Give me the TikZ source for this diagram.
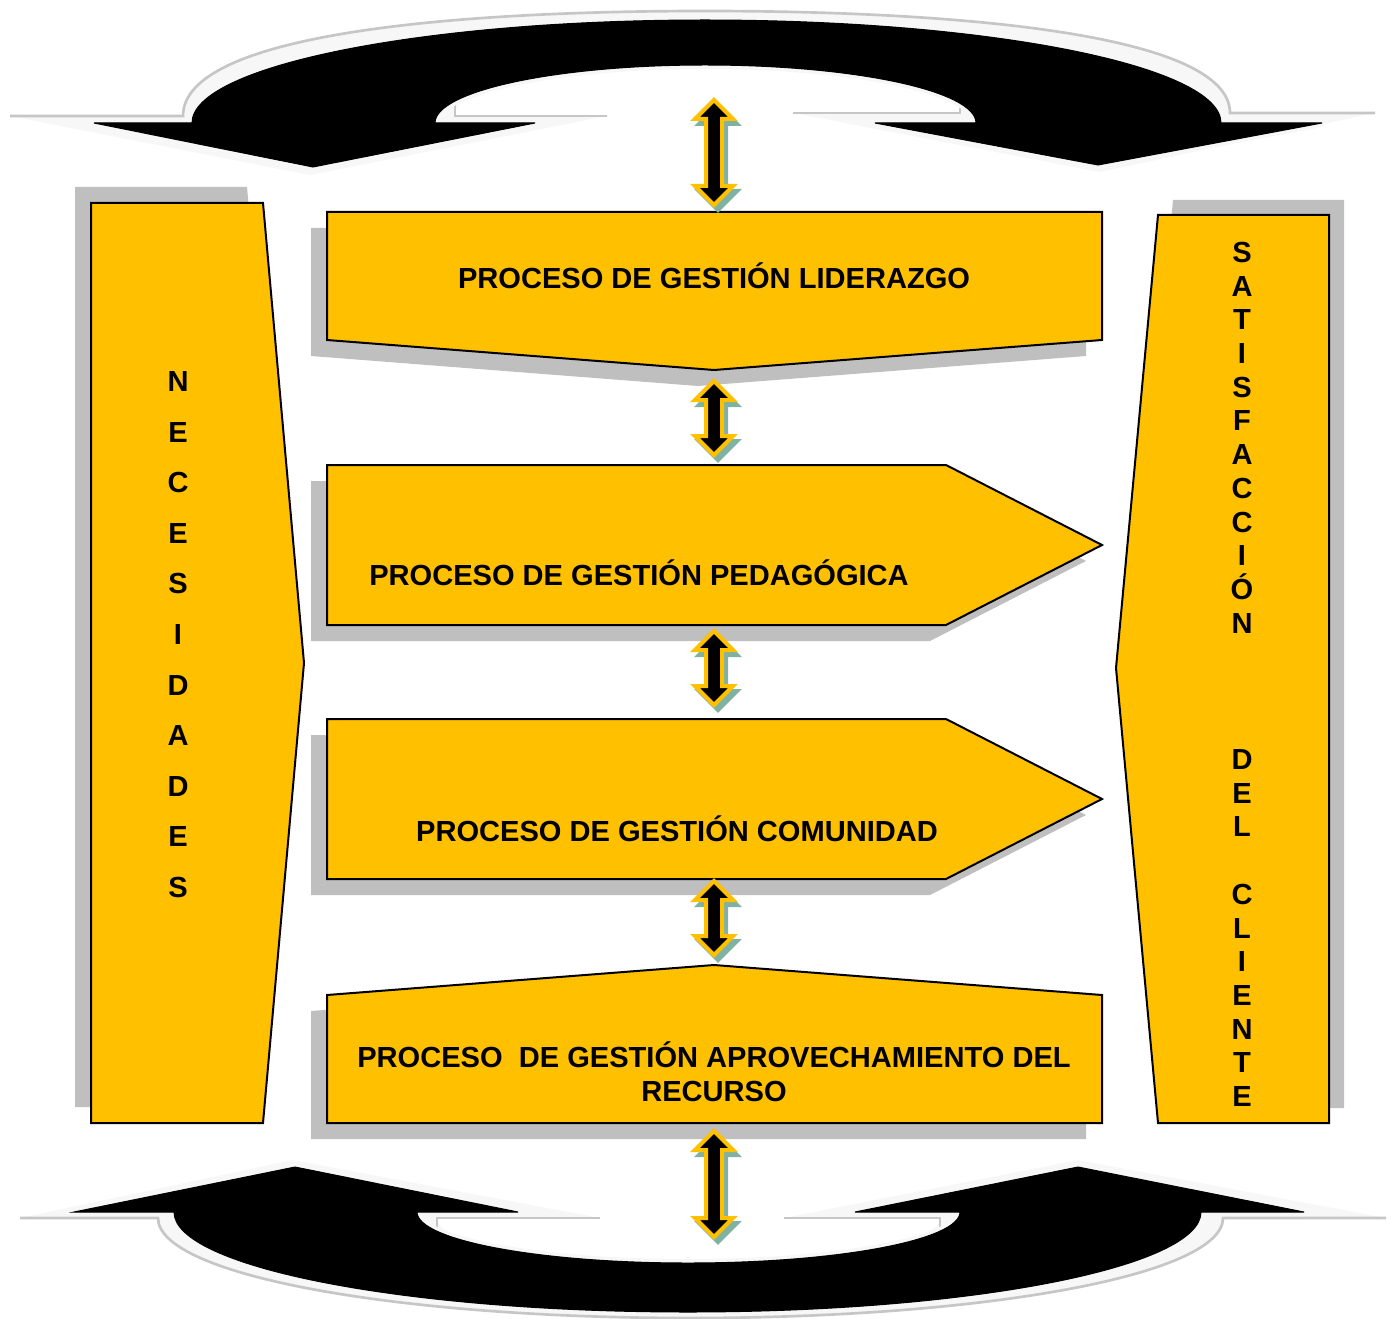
\documentclass[tikz,border=0pt]{standalone}
\usepackage{fontspec}
\setmainfont{Liberation Sans}
\definecolor{procyellow}{RGB}{255,192,0}
\definecolor{boxshade}{RGB}{191,191,191}
\definecolor{arrowshade}{RGB}{128,178,164}
\tikzset{every picture/.style={line width=0.75pt}}

% double arrow between two named coordinates (top, bottom)
\newcommand{\dblarrow}[2]{%
\draw [arrshade] (#1) -- ([shift={(19,19)}]#1) -- ([shift={(8,19)}]#1) -- ([shift={(8,-19)}]#2) -- ([shift={(19,-19)}]#2) -- (#2) -- ([shift={(-19,-19)}]#2) -- ([shift={(-8,-19)}]#2) -- ([shift={(-8,19)}]#1) -- ([shift={(-19,19)}]#1) -- cycle ;
\draw [arrbody] (#1) -- ([shift={(19,19)}]#1) -- ([shift={(8,19)}]#1) -- ([shift={(8,-19)}]#2) -- ([shift={(19,-19)}]#2) -- (#2) -- ([shift={(-19,-19)}]#2) -- ([shift={(-8,-19)}]#2) -- ([shift={(-8,19)}]#1) -- ([shift={(-19,19)}]#1) -- cycle ;}

\begin{document}
\begin{tikzpicture}[x=0.75pt,y=0.75pt,yscale=-1,xscale=1,
  procbox/.style={draw=black, line width=1.5pt, fill=procyellow},
  procshade/.style={fill=boxshade, draw=none},
  bigshade/.style={fill=gray!6, draw=none},
  bigline/.style={draw=gray!45, line width=2pt},
  bigarrow/.style={fill=black, preaction={draw=gray!6, line width=6pt}},
  arrbody/.style={fill=black, draw=procyellow, line width=3pt},
  arrshade/.style={fill=arrowshade, draw=arrowshade, line width=3pt, transform canvas={xshift=3pt, yshift=-3.75pt}},
  proclabel/.style={font=\fontsize{21.8pt}{25.5pt}\selectfont\bfseries, inner sep=0pt, text height=15.6pt, text depth=0pt, align=center}]
\useasboundingbox (0,0) rectangle (1391,1319);

%Shape: curved arrow, top
\fill [bigshade] (10,116) -- (310,175) -- (607,116) -- (455,116) .. controls (455,80) and (570,58) .. (705,58) .. controls (840,58) and (960,80) .. (960,113) -- (793,113) -- (1100,172) -- (1375,113) -- (1230,113) .. controls (1230,35) and (965,11) .. (705,11) .. controls (445,11) and (183,35) .. (183,116) -- cycle ;
\draw [bigline] (10,116) -- (183,116) .. controls (183,35) and (445,11) .. (705,11) .. controls (965,11) and (1230,35) .. (1230,113) -- (1375,113) ;
\draw [bigline] (455,105) -- (455,116) -- (607,116) ;
\draw [bigline] (793,113) -- (960,113) -- (960,102) ;
\draw [bigarrow] (94,123) -- (313,167) -- (535,123) -- (435,123) .. controls (435,91) and (556,65) .. (705,65) .. controls (855,65) and (976,91) .. (976,123) -- (875,123) -- (1098,165) -- (1322,123) -- (1221,123) .. controls (1221,66) and (990,20) .. (705,20) .. controls (422,20) and (192,66) .. (192,123) -- cycle ;

%Shape: curved arrow, bottom
\fill [bigshade] (20,1218) -- (293,1160) -- (600,1218) -- (437,1218) .. controls (437,1245) and (550,1268) .. (688,1268) .. controls (826,1268) and (940,1245) .. (940,1218) -- (784,1218) -- (1078,1160) -- (1386,1218) -- (1223,1218) .. controls (1223,1275) and (985,1318) .. (690,1318) .. controls (395,1318) and (158,1275) .. (158,1218) -- cycle ;
\draw [bigline] (20,1218) -- (158,1218) .. controls (158,1275) and (395,1318) .. (690,1318) .. controls (985,1318) and (1223,1275) .. (1223,1218) -- (1386,1218) ;
\draw [bigline] (437,1228) -- (437,1218) -- (600,1218) ;
\draw [bigline] (784,1218) -- (940,1218) -- (940,1228) ;
\draw [bigarrow] (74,1212) -- (295,1167) -- (518,1212) -- (417,1212) .. controls (417,1240) and (538,1263) .. (688,1263) .. controls (838,1263) and (960,1240) .. (960,1212) -- (855,1212) -- (1078,1167) -- (1304,1212) -- (1201,1212) .. controls (1201,1267) and (972,1312) .. (688,1312) .. controls (404,1312) and (174,1267) .. (174,1212) -- cycle ;

%Shape: side boxes
\draw [procshade, shift={(-16,-16)}] (91,203) -- (263,203) -- (304,663) -- (263,1123) -- (91,1123) -- cycle ;
\draw [procbox] (91,203) -- (263,203) -- (304,663) -- (263,1123) -- (91,1123) -- cycle ;
\draw [procshade, shift={(15,-15)}] (1158,215) -- (1329,215) -- (1329,1123) -- (1158,1123) -- (1116,668) -- cycle ;
\draw [procbox] (1158,215) -- (1329,215) -- (1329,1123) -- (1158,1123) -- (1116,668) -- cycle ;

%Shape: process boxes
\draw [procshade, shift={(-16,16)}] (327,212) -- (1102,212) -- (1102,340) -- (714,370) -- (327,340) -- cycle ;
\draw [procbox] (327,212) -- (1102,212) -- (1102,340) -- (714,370) -- (327,340) -- cycle ;
\draw [procshade, shift={(-16,16)}] (327,465) -- (946,465) -- (1102,545) -- (946,625) -- (327,625) -- cycle ;
\draw [procbox] (327,465) -- (946,465) -- (1102,545) -- (946,625) -- (327,625) -- cycle ;
\draw [procshade, shift={(-16,16)}] (327,719) -- (946,719) -- (1102,799) -- (946,879) -- (327,879) -- cycle ;
\draw [procbox] (327,719) -- (946,719) -- (1102,799) -- (946,879) -- (327,879) -- cycle ;
\draw [procshade, shift={(-16,16)}] (327,995) -- (714,965) -- (1102,995) -- (1102,1123) -- (327,1123) -- cycle ;
\draw [procbox] (327,995) -- (714,965) -- (1102,995) -- (1102,1123) -- (327,1123) -- cycle ;

%Double arrows
\foreach \n/\t/\b in {1/100/205, 2/381/455, 3/631/705, 4/881/955, 5/1131/1237} {
  \coordinate (arr\n-t) at (714,\t);
  \coordinate (arr\n-b) at (714,\b);
  \dblarrow{arr\n-t}{arr\n-b}
}

% Text Nodes
\node [proclabel] (liderazgo) at (714,278) {PROCESO DE GESTIÓN LIDERAZGO};
\node [proclabel] (pedagogica) at (639,575) {PROCESO DE GESTIÓN PEDAGÓGICA};
\node [proclabel] (comunidad) at (677,831) {PROCESO DE GESTIÓN COMUNIDAD};
\node [proclabel] (recurso) at (714,1091) {PROCESO~ DE GESTIÓN APROVECHAMIENTO DEL\\RECURSO};

\foreach \l [count=\i from 0] in {N,E,C,E,S,I,D,A,D,E,S}
  \node [proclabel] (nec\i) at (178,381+50.6*\i) {\l};

\foreach \w/\y/\k in {{S,A,T,I,S,F,A,C,C,I,Ó,N}/252/sat, {D,E,L}/759/del, {C,L,I,E,N,T,E}/894/cli}
  \foreach \l [count=\i from 0] in \w
    \node [proclabel] (\k\i) at (1242,\y+33.7*\i) {\l};

\end{tikzpicture}
\end{document}
